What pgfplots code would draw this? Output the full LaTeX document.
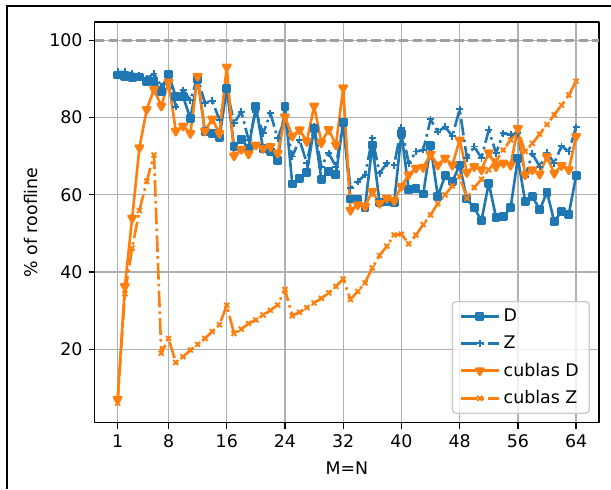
\documentclass[border=0pt]{standalone}
\usepackage{fontspec}
\setmainfont{DejaVu Sans}
\usepackage{pgfplots}
\usepackage{pgfplotstable}
\pgfplotsset{compat=1.18}

\definecolor{tabblue}{RGB}{31,119,180}
\definecolor{taborange}{RGB}{255,127,14}
\definecolor{gridgray}{RGB}{176,176,176}
\definecolor{leggray}{RGB}{204,204,204}
\definecolor{refgray}{RGB}{160,160,160}

% percentage of roofline for each matrix size M=N
\pgfplotstableread{
n  D    Z    cD   cZ
1  91.0 91.8 7.1  6.1
2  90.7 91.8 36.3 34.4
3  90.3 91.4 54.0 46.2
4  90.5 91.0 72.2 55.9
5  89.4 90.1 82.1 63.5
6  89.4 91.4 87.3 70.3
7  86.7 88.0 83.0 19.0
8  91.2 90.5 89.2 22.8
9  85.4 82.8 76.5 16.6
10 85.4 87.1 77.8 18.1
11 79.8 84.5 75.9 19.8
12 89.9 90.4 90.7 21.3
13 76.3 83.7 76.5 22.8
14 75.9 84.3 79.6 24.6
15 74.9 79.4 75.9 26.4
16 87.5 87.5 93.1 31.4
17 72.5 78.5 70.1 24.1
18 74.4 81.5 71.8 25.2
19 72.0 74.2 70.6 26.7
20 82.8 81.5 72.9 27.6
21 71.9 75.9 72.0 28.9
22 71.2 81.1 72.5 30.1
23 68.9 74.6 70.8 31.5
24 82.8 79.8 80.2 35.5
25 62.8 69.9 75.2 28.7
26 64.3 74.2 76.8 29.6
27 65.8 68.2 73.8 30.8
28 77.2 77.6 83.0 32.0
29 64.0 67.3 73.5 33.2
30 66.0 70.8 76.9 34.6
31 65.2 67.3 72.9 36.3
32 78.8 78.9 87.7 38.2
33 58.9 61.7 56.0 32.9
34 58.7 63.4 57.4 35.0
35 56.8 65.2 57.0 37.2
36 72.9 74.6 60.9 41.1
37 58.0 65.6 57.8 44.3
38 58.3 68.2 59.1 46.7
39 58.0 67.7 58.5 49.6
40 75.9 77.4 62.2 49.8
41 61.3 68.2 65.2 47.3
42 61.7 71.2 66.9 49.6
43 60.2 71.6 67.1 52.3
44 72.7 79.5 70.5 54.8
45 59.6 76.3 67.7 57.7
46 64.9 77.6 69.5 60.0
47 63.4 75.2 67.7 62.3
48 67.7 82.1 74.2 64.7
49 58.9 69.5 65.8 59.1
50 56.6 72.5 67.3 61.9
51 53.3 69.5 66.5 64.0
52 63.0 76.8 70.9 66.5
53 54.2 70.8 67.3 68.8
54 54.4 75.9 68.2 71.6
55 56.6 75.5 67.7 74.2
56 69.5 75.9 77.2 76.8
57 58.3 64.7 65.2 71.2
58 59.6 70.6 66.5 73.3
59 56.1 67.3 65.4 75.7
60 60.7 70.9 69.9 78.2
61 53.1 68.2 65.6 80.7
62 55.7 72.6 67.6 83.2
63 55.0 71.2 66.5 85.8
64 64.9 77.5 75.1 89.4
}\roofdata

\pgfplotsset{
  legend image code/.code={%
    \draw[mark repeat=2,mark phase=2,#1]
      plot coordinates {(0pt,0pt) (11pt,0pt) (22pt,0pt)};}
}

\begin{document}
\begin{tikzpicture}
\useasboundingbox (-54.45pt,-38.1pt) rectangle (296.9pt,243.1pt);
\begin{axis}[
  at={(0pt,0pt)}, anchor=south west,
  scale only axis, width=290pt, height=230.4pt,
  xmin=-2.15, xmax=67.15, ymin=1.0, ymax=104.7,
  xtick={1,8,16,24,32,40,48,56,64},
  ytick={20,40,60,80,100},
  grid=major,
  grid style={gridgray, line width=0.8pt},
  axis line style={line width=0.8pt},
  tick align=outside, tick pos=left,
  major tick length=3.5pt,
  tick style={black, line width=0.8pt},
  /pgf/number format/assume math mode=true,
  tick label style={font=\normalsize},
  xlabel={M=N},
  ylabel={\% of roofline},
  xlabel style={at={(axis description cs:0.5,-0.1124)}, anchor=center},
  ylabel style={at={(axis description cs:-0.126,0.5)}, anchor=center},
  legend cell align=left,
  legend style={at={(0.982,0.022)}, anchor=south east,
    draw=leggray, line width=0.8pt, rounded corners=2pt,
    fill=white, fill opacity=0.8, text opacity=1,
    inner xsep=4pt, inner ysep=2pt, row sep=2.8pt,
    font=\normalsize,
    /tikz/every even column/.append style={column sep=4pt}},
  line join=round,
]
\addplot[refgray, line width=1.5pt, dash pattern=on 5.55pt off 2.4pt, forget plot]
  coordinates {(-2.15,100) (67.15,100)};

\addplot[tabblue, line width=1.5pt, mark=square*, mark size=1.8pt]
  table[x=n, y=D] \roofdata;
\addlegendentry{D}
\addplot[tabblue, line width=1.5pt,
  dash pattern=on 9.6pt off 2.4pt on 1.5pt off 2.4pt,
  mark=+, mark size=2pt, mark options={solid, line width=1.1pt}]
  table[x=n, y=Z] \roofdata;
\addlegendentry{Z}
\addplot[taborange, line width=1.5pt, mark=triangle*, mark size=2.4pt,
  mark options={rotate=180}]
  table[x=n, y=cD] \roofdata;
\addlegendentry{cublas D}
\addplot[taborange, line width=1.5pt,
  dash pattern=on 9.6pt off 2.4pt on 1.5pt off 2.4pt,
  mark=x, mark size=2pt, mark options={solid, line width=1.1pt}]
  table[x=n, y=cZ] \roofdata;
\addlegendentry{cublas Z}
\end{axis}
% outer frame of the figure
\draw[line width=1.2pt] (-50.4pt,-38.1pt) -- (-50.4pt,239.9pt) -- (296.9pt,239.9pt);
\end{tikzpicture}
\end{document}
